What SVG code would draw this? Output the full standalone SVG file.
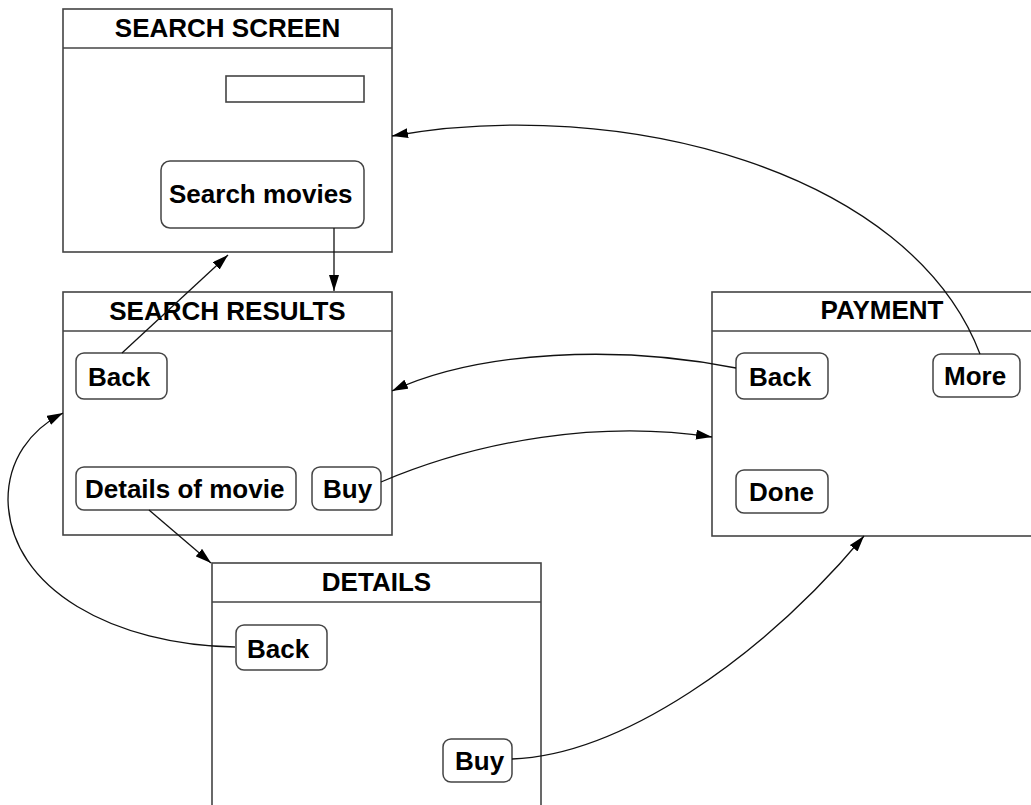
<svg xmlns="http://www.w3.org/2000/svg" width="1031" height="805" viewBox="0 0 1031 805">
<style>
.box{fill:#fff;stroke:#444;stroke-width:1.6}
.hdr{stroke:#444;stroke-width:1.6}
.btn{fill:#fff;stroke:#444;stroke-width:1.5}
.t{font-family:"Liberation Sans",Arial,sans-serif;font-weight:bold;font-size:26px;fill:#000}
.c{text-anchor:middle}
.con{fill:none;stroke:#111;stroke-width:1.3}
</style>
<defs>
<marker id="ah" viewBox="0 0 16 10" refX="16" refY="5" markerWidth="16" markerHeight="10" markerUnits="userSpaceOnUse" orient="auto">
<path d="M0,0 L16,5 L0,10 Z" fill="#000"/>
</marker>
</defs>
<g id="search-screen">
<rect class="box" x="63" y="9" width="329" height="243"/>
<line class="hdr" x1="63" y1="48" x2="392" y2="48"/>
<text class="t c" x="227.5" y="37">SEARCH SCREEN</text>
<rect class="box" x="226" y="76" width="138" height="26"/>
<rect class="btn" x="161" y="161" width="203" height="67" rx="9"/>
<text class="t" x="169" y="203">Search movies</text>
</g>
<g id="search-results">
<rect class="box" x="63" y="292" width="329" height="243"/>
<line class="hdr" x1="63" y1="331" x2="392" y2="331"/>
<text class="t c" x="227.5" y="320">SEARCH RESULTS</text>
<rect class="btn" x="76" y="353" width="91" height="46" rx="8"/>
<text class="t" x="88" y="386">Back</text>
<rect class="btn" x="76" y="467" width="220" height="43" rx="8"/>
<text class="t" x="85" y="498">Details of movie</text>
<rect class="btn" x="312" y="467" width="69" height="43" rx="8"/>
<text class="t" x="323" y="498">Buy</text>
</g>
<g id="payment">
<rect class="box" x="712" y="292" width="340" height="244"/>
<line class="hdr" x1="712" y1="331" x2="1052" y2="331"/>
<text class="t c" x="882" y="319">PAYMENT</text>
<rect class="btn" x="736" y="353" width="92" height="46" rx="8"/>
<text class="t" x="749" y="386">Back</text>
<rect class="btn" x="933" y="354" width="87" height="43" rx="8"/>
<text class="t" x="944" y="385">More</text>
<rect class="btn" x="736" y="470" width="92" height="43" rx="8"/>
<text class="t" x="749" y="501">Done</text>
</g>
<g id="details">
<rect class="box" x="212" y="563" width="329" height="260"/>
<line class="hdr" x1="212" y1="602" x2="541" y2="602"/>
<text class="t c" x="376.5" y="591">DETAILS</text>
<rect class="btn" x="236" y="625" width="91" height="45" rx="8"/>
<text class="t" x="247" y="658">Back</text>
<rect class="btn" x="443" y="739" width="69" height="43" rx="8"/>
<text class="t" x="455" y="770">Buy</text>
</g>
<g id="connectors">
<path class="con" d="M334,228 L334,291" marker-end="url(#ah)"/>
<path class="con" d="M122,353 L228,255" marker-end="url(#ah)"/>
<path class="con" d="M149,510 L211,563" marker-end="url(#ah)"/>
<path class="con" d="M235,647 C115,645 10,590 8,500 C8,460 30,430 63,413" marker-end="url(#ah)"/>
<path class="con" d="M980,354 C910,170 620,95 392,136" marker-end="url(#ah)"/>
<path class="con" d="M736,368 C620,345 480,350 392,391" marker-end="url(#ah)"/>
<path class="con" d="M381,482 C480,440 600,420 712,437" marker-end="url(#ah)"/>
<path class="con" d="M512,759 C620,755 760,660 864,536" marker-end="url(#ah)"/>
</g>
</svg>
